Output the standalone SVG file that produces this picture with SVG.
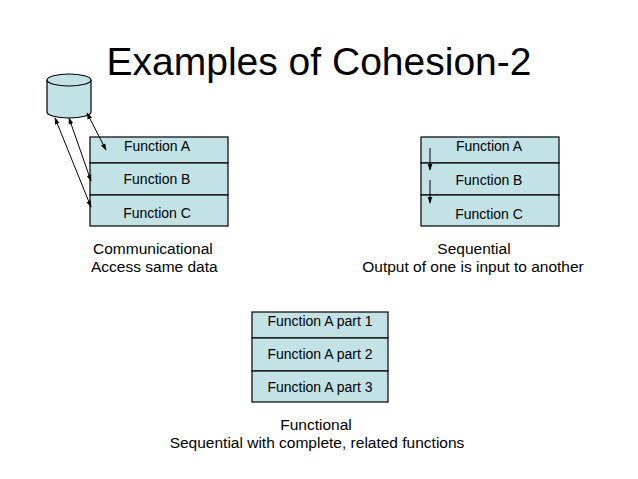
<svg xmlns="http://www.w3.org/2000/svg" width="638" height="479" viewBox="0 0 638 479">
<defs>
<style>
.t{font-family:"Liberation Sans",Arial,sans-serif;fill:#000}
.box{fill:#c2e2e6;stroke:#000;stroke-width:1.2}
.fn{font-size:14px;text-anchor:middle}
.lbl{font-size:15.5px}
.ln{stroke:#000;stroke-width:1;fill:none}
</style>
<marker id="ah" viewBox="0 0 10 10" refX="9" refY="5" markerWidth="7" markerHeight="7" orient="auto-start-reverse" markerUnits="userSpaceOnUse">
<path d="M0,1.5 L10,5 L0,8.5 z" fill="#000"/>
</marker>
</defs>
<rect width="638" height="479" fill="#fff"/>
<text class="t" x="319" y="75" font-size="39" text-anchor="middle">Examples of Cohesion-2</text>

<g id="database">
<path class="box" d="M47,80 L47,112 A22,6 0 0 0 91,112 L91,80"/>
<ellipse class="box" cx="69" cy="80" rx="22" ry="6"/>
</g>

<g id="communicational">
<rect class="box" x="90" y="137" width="138" height="26"/>
<rect class="box" x="90" y="163" width="138" height="32"/>
<rect class="box" x="90" y="195" width="138" height="31"/>
<text class="t fn" x="157" y="151">Function A</text>
<text class="t fn" x="157" y="184">Function B</text>
<text class="t fn" x="157" y="218">Function C</text>
</g>

<g id="sequential">
<rect class="box" x="421" y="137" width="138" height="26"/>
<rect class="box" x="421" y="163" width="138" height="32"/>
<rect class="box" x="421" y="195" width="138" height="31"/>
<text class="t fn" x="489" y="151">Function A</text>
<text class="t fn" x="489" y="185">Function B</text>
<text class="t fn" x="489" y="219">Function C</text>
</g>

<g id="functional">
<rect class="box" x="252" y="312" width="136" height="26"/>
<rect class="box" x="252" y="338" width="136" height="33"/>
<rect class="box" x="252" y="371" width="136" height="31"/>
<text class="t fn" x="320" y="326">Function A part 1</text>
<text class="t fn" x="320" y="359">Function A part 2</text>
<text class="t fn" x="320" y="392">Function A part 3</text>
</g>

<g id="connectors">
<line class="ln" x1="55" y1="118" x2="91" y2="207" marker-start="url(#ah)" marker-end="url(#ah)"/>
<line class="ln" x1="69" y1="118" x2="91" y2="181" marker-start="url(#ah)" marker-end="url(#ah)"/>
<line class="ln" x1="87" y1="113" x2="106" y2="150" marker-start="url(#ah)" marker-end="url(#ah)"/>
<line class="ln" x1="430" y1="148" x2="430" y2="170" marker-end="url(#ah)"/>
<line class="ln" x1="430" y1="180" x2="430" y2="203" marker-end="url(#ah)"/>
</g>

<g id="labels">
<text class="t lbl" x="93" y="254">Communicational</text>
<text class="t lbl" x="91" y="272">Access same data</text>
<text class="t lbl" x="474" y="254" text-anchor="middle">Sequential</text>
<text class="t lbl" x="473" y="272" text-anchor="middle">Output of one is input to another</text>
<text class="t lbl" x="316" y="430" text-anchor="middle">Functional</text>
<text class="t lbl" x="317" y="448" text-anchor="middle">Sequential with complete, related functions</text>
</g>
</svg>
